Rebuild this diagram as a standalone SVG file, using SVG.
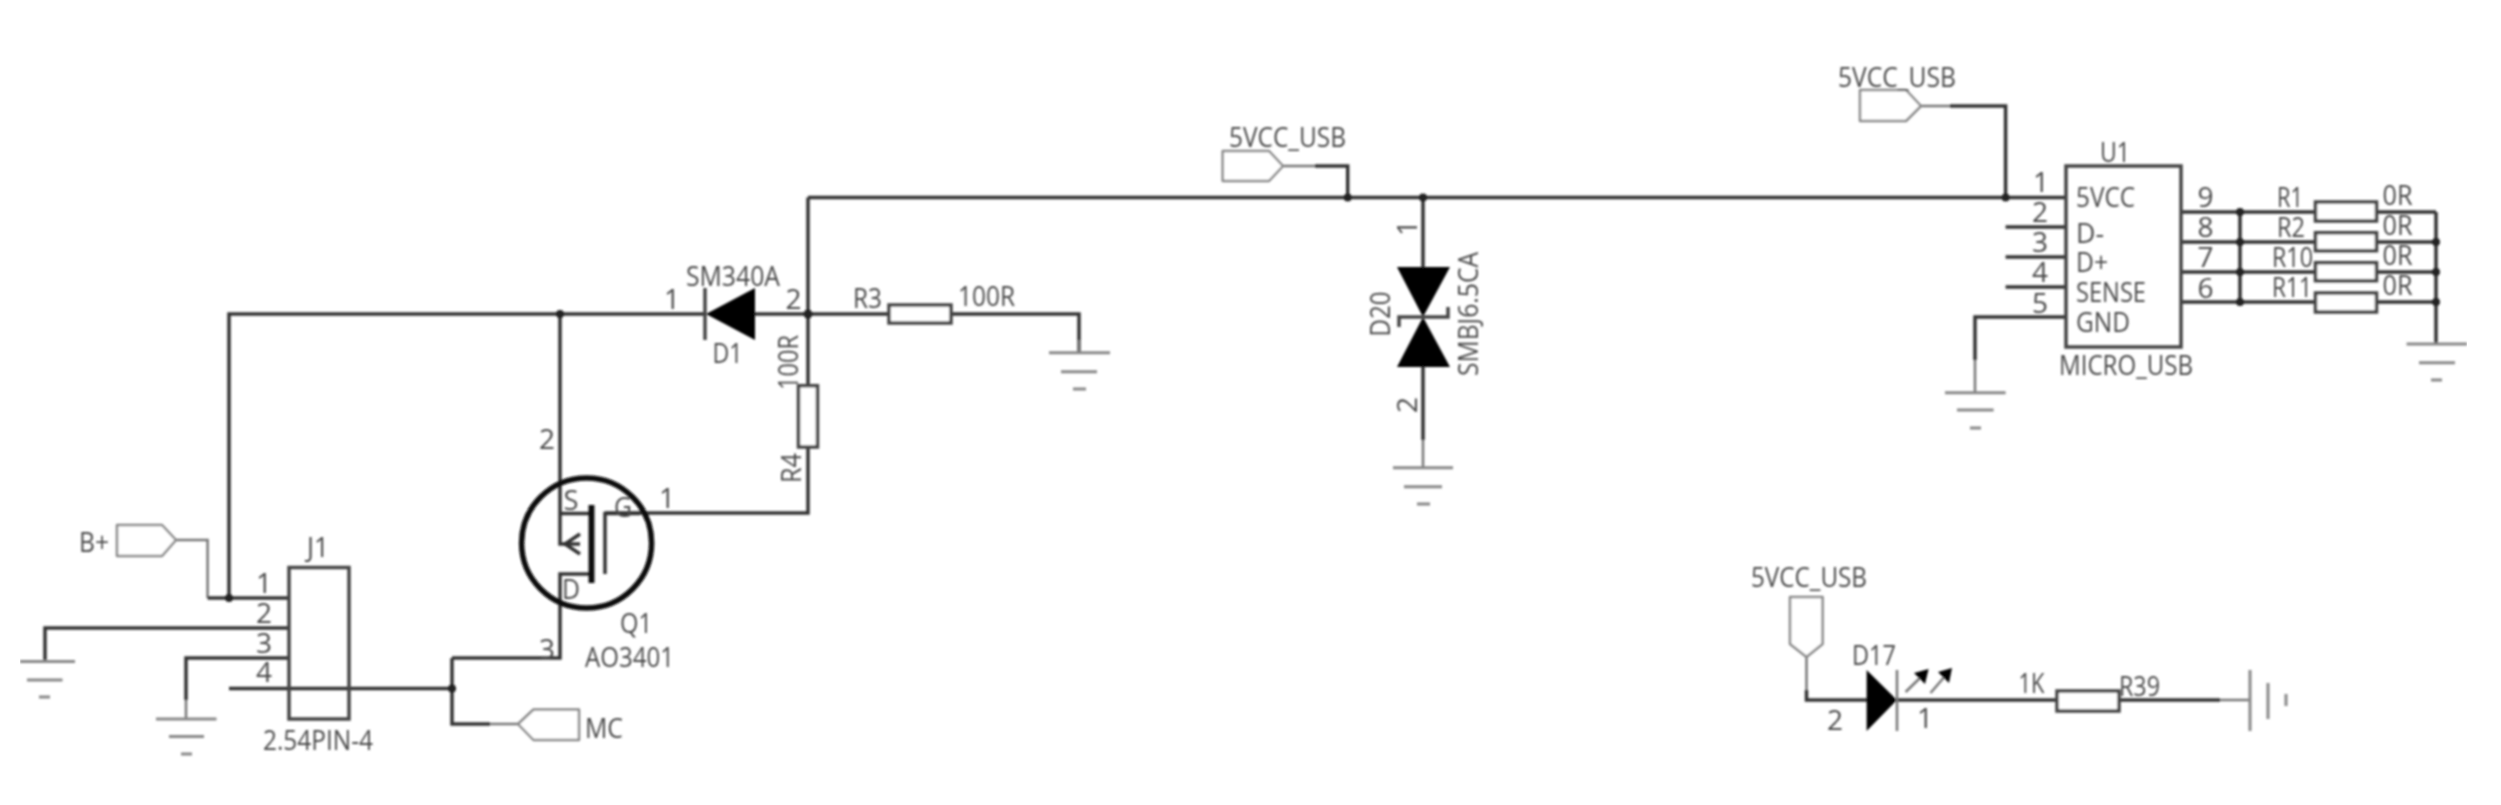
<svg xmlns="http://www.w3.org/2000/svg" width="2501" height="805" viewBox="0 0 2501 805">
<defs>
<style>
text{font-family:"Open Sans","Noto Sans","DejaVu Sans",sans-serif;font-size:28px;fill:#4a4a4a}
.m{text-anchor:middle}
.w{fill:none;stroke:#333;stroke-width:3.5;stroke-linejoin:miter}
.t{fill:none;stroke:#777;stroke-width:2.5}
.b{fill:none;stroke:#444;stroke-width:3.5}
.r{fill:#fff;stroke:#444;stroke-width:3.5}
.f{fill:#fff;stroke:#888;stroke-width:2.5;stroke-linejoin:round}
.g{fill:none;stroke:#888;stroke-width:3}
.k{fill:#000}
.d{fill:#222}
</style>
<filter id="soft" x="0" y="0" width="100%" height="100%"><feGaussianBlur stdDeviation="0.9"/></filter>
</defs>
<rect width="2501" height="805" fill="#fff"/>
<g filter="url(#soft)">
<g id="connectors">
<path class="w" d="M229 598V314H705"/>
<path class="w" d="M560 314V544H580M560 513.500H591M591 574H560V658H452M229 688.500H452M452 658V724H490"/>
<path class="t" d="M490 724H518"/>
<path class="t" d="M176 540H207.600V598"/>
<path class="w" d="M207.600 598H289"/>
<path class="w" d="M45 661V628H289"/>
<path class="w" d="M186 700V658H289"/>
<path class="t" d="M186 700V719"/>
<path class="w" d="M755 314H1079V352"/>
<path class="w" d="M808 197.500V513H605"/>
<path class="w" d="M808 197.500H2066"/>
<path class="t" d="M1283 166H1315"/>
<path class="w" d="M1315 166H1347.700V197.500"/>
<path class="t" d="M1921 106H1950"/>
<path class="w" d="M1950 106H2005.600V197.500"/>
<path class="w" d="M1423 197.500V267M1423 367V440"/>
<path class="t" d="M1423 440V468"/>
<path class="w" d="M2005.600 227H2066M2005.600 257H2066M2005.600 287H2066M1975 360V317H2066"/>
<path class="t" d="M1975 360V393"/>
<path class="w" d="M2181 212H2436M2181 242H2436M2181 272H2436M2181 302H2436M2240 212V302M2436 212V344"/>
<path class="t" d="M1806.500 657V690"/>
<path class="w" d="M1806.500 690V700H1870M1897 700H2220"/>
<path class="t" d="M2220 700H2250"/>
<g class="d">
<circle cx="229" cy="598" r="4"/><circle cx="560" cy="314" r="4"/><circle cx="452" cy="688.500" r="4"/>
<circle cx="808" cy="314" r="4.500"/><circle cx="1347.700" cy="197.500" r="4"/><circle cx="1423" cy="197.500" r="4"/>
<circle cx="2005.600" cy="197.500" r="4"/>
<circle cx="2240" cy="212" r="4"/><circle cx="2240" cy="242" r="4"/><circle cx="2240" cy="272" r="4"/><circle cx="2240" cy="302" r="4"/>
<circle cx="2436" cy="242" r="4"/><circle cx="2436" cy="272" r="4"/><circle cx="2436" cy="302" r="4"/>
</g>
</g>

<g id="flag-bplus"><polygon class="f" points="117,525 162,525 176,540 162,556 117,556"/><text x="79" y="552" textLength="30" lengthAdjust="spacingAndGlyphs">B+</text></g>
<g id="flag-mc"><polygon class="f" points="518,724 533.500,709.500 579,709.500 579,740 533.500,740"/><text x="585" y="738" textLength="38" lengthAdjust="spacingAndGlyphs">MC</text></g>
<g id="flag-5v-a"><polygon class="f" points="1222.700,151 1269,151 1283,166 1269,181 1222.700,181"/><text x="1229" y="147" textLength="117" lengthAdjust="spacingAndGlyphs">5VCC_USB</text></g>
<g id="flag-5v-b"><polygon class="f" points="1860,90 1906,90 1921,106 1906,121 1860,121"/><text x="1838" y="87" textLength="118" lengthAdjust="spacingAndGlyphs">5VCC_USB</text></g>
<g id="flag-5v-c"><polygon class="f" points="1790,597 1822.600,597 1822.600,644 1806.500,657 1790,644"/><text x="1751" y="587" textLength="116" lengthAdjust="spacingAndGlyphs">5VCC_USB</text></g>

<g id="gnd-1"><path class="g" d="M20 661.500H75M27 680H62.500M39 697H50"/></g>
<g id="gnd-2"><path class="g" d="M156 719H216.500M169 736.500H204M181 754H192"/></g>
<g id="gnd-3"><path class="t" d="M1079 340V352.700"/><path class="g" d="M1049 352.700H1110M1061 371.700H1097M1073 389H1086"/></g>
<g id="gnd-4"><path class="g" d="M1393 467.700H1453M1404 486.700H1442M1417 504H1430"/></g>
<g id="gnd-5"><path class="g" d="M1945 392.700H2005.600M1957 410H1993.600M1970 428H1981"/></g>
<g id="gnd-6"><path class="g" d="M2406.600 344H2467M2419 362.700H2455M2431 380H2442"/></g>
<g id="gnd-7"><path class="g" d="M2250 670V731M2268 683V719M2286 694V706"/></g>

<g id="J1">
<rect x="289" y="567.500" width="60" height="151.500" class="b"/>
<text class="m" x="318" y="557" textLength="22" lengthAdjust="spacingAndGlyphs">J1</text>
<text class="m" x="264" y="593">1</text><text class="m" x="264" y="623">2</text><text class="m" x="264" y="653">3</text><text class="m" x="264" y="682">4</text>
<text x="263" y="750" textLength="110" lengthAdjust="spacingAndGlyphs">2.54PIN-4</text>
</g>

<g id="Q1">
<circle cx="586.600" cy="543" r="65" fill="none" stroke="#111" stroke-width="5.500"/>
<path d="M591.500 505V583" fill="none" stroke="#111" stroke-width="6"/>
<path class="w" d="M605 574V513.500H640"/>
<path class="w" d="M580 534L565 544L580 554"/>
<text class="m" x="571" y="510" textLength="15" lengthAdjust="spacingAndGlyphs">S</text><text class="m" x="623" y="517" textLength="18" lengthAdjust="spacingAndGlyphs">G</text><text class="m" x="571" y="599" textLength="18" lengthAdjust="spacingAndGlyphs">D</text>
<text class="m" x="547" y="449">2</text><text class="m" x="667" y="508">1</text><text class="m" x="547" y="659">3</text>
<text class="m" x="636" y="633" textLength="32" lengthAdjust="spacingAndGlyphs">Q1</text>
<text x="585" y="667" textLength="89" lengthAdjust="spacingAndGlyphs">AO3401</text>
</g>

<g id="D1">
<path class="b" d="M705 288V340" stroke-width="4"/>
<polygon class="k" points="706,314 755,288 755,340"/>
<text x="686" y="286" textLength="94" lengthAdjust="spacingAndGlyphs">SM340A</text>
<text class="m" x="672" y="309">1</text><text class="m" x="793.600" y="309">2</text>
<text class="m" x="727.500" y="363" textLength="30" lengthAdjust="spacingAndGlyphs">D1</text>
</g>

<g id="R3"><rect class="r" x="889" y="305" width="62" height="18"/>
<text x="853" y="308" textLength="29" lengthAdjust="spacingAndGlyphs">R3</text>
<text x="958" y="306" textLength="57" lengthAdjust="spacingAndGlyphs">100R</text></g>

<g id="R4"><rect class="r" x="798.500" y="385.700" width="19" height="61.300"/>
<text class="m" transform="translate(798 362.500) rotate(-90)" textLength="55" lengthAdjust="spacingAndGlyphs">100R</text>
<text class="m" transform="translate(801 468) rotate(-90)" textLength="30" lengthAdjust="spacingAndGlyphs">R4</text></g>

<g id="D20">
<polygon class="k" points="1397,267 1450,267 1423,317"/>
<polygon class="k" points="1397,367 1450,367 1423,317"/>
<path class="b" d="M1399 327V317H1448V307"/>
<text class="m" transform="translate(1417 228) rotate(-90)">1</text>
<text class="m" transform="translate(1417 405) rotate(-90)">2</text>
<text class="m" transform="translate(1390 314) rotate(-90)" textLength="45" lengthAdjust="spacingAndGlyphs">D20</text>
<text class="m" transform="translate(1478 314) rotate(-90)" textLength="124" lengthAdjust="spacingAndGlyphs">SMBJ6.5CA</text>
</g>

<g id="U1">
<rect class="b" x="2066" y="166" width="115" height="181"/>
<text class="m" x="2115" y="162" textLength="30" lengthAdjust="spacingAndGlyphs">U1</text>
<text x="2076" y="207" textLength="59" lengthAdjust="spacingAndGlyphs">5VCC</text>
<text x="2076" y="243" textLength="28" lengthAdjust="spacingAndGlyphs">D-</text>
<text x="2076" y="272" textLength="32" lengthAdjust="spacingAndGlyphs">D+</text>
<text x="2076" y="302" textLength="70" lengthAdjust="spacingAndGlyphs">SENSE</text>
<text x="2076" y="332" textLength="54" lengthAdjust="spacingAndGlyphs">GND</text>
<text x="2059" y="375" textLength="134" lengthAdjust="spacingAndGlyphs">MICRO_USB</text>
<text class="m" x="2041" y="192">1</text><text class="m" x="2040" y="222">2</text><text class="m" x="2040" y="252">3</text><text class="m" x="2040" y="282">4</text><text class="m" x="2040" y="313">5</text>
<text class="m" x="2205.500" y="207">9</text><text class="m" x="2205.500" y="237">8</text><text class="m" x="2205.500" y="267">7</text><text class="m" x="2205.500" y="298">6</text>
</g>

<g id="R1"><rect class="r" x="2315.500" y="202" width="61" height="19"/><text x="2277" y="207" textLength="26" lengthAdjust="spacingAndGlyphs">R1</text><text x="2382.500" y="205" textLength="30" lengthAdjust="spacingAndGlyphs">0R</text></g>
<g id="R2"><rect class="r" x="2315.500" y="232.700" width="61" height="18"/><text x="2277" y="237" textLength="28" lengthAdjust="spacingAndGlyphs">R2</text><text x="2382.500" y="235" textLength="30" lengthAdjust="spacingAndGlyphs">0R</text></g>
<g id="R10"><rect class="r" x="2315.500" y="262.700" width="61" height="18"/><text x="2272" y="267" textLength="41" lengthAdjust="spacingAndGlyphs">R10</text><text x="2382.500" y="265" textLength="30" lengthAdjust="spacingAndGlyphs">0R</text></g>
<g id="R11"><rect class="r" x="2315.500" y="293" width="61" height="19"/><text x="2272" y="297" textLength="40" lengthAdjust="spacingAndGlyphs">R11</text><text x="2382.500" y="295" textLength="30" lengthAdjust="spacingAndGlyphs">0R</text></g>

<g id="D17">
<polygon class="k" points="1866.600,670 1897,700 1866.600,731"/>
<path class="t" d="M1897 670V731"/>
<path class="t" d="M1905.600 692L1922 676M1930.500 693L1946 675"/>
<polygon class="k" points="1928.600,669 1914,673 1925,684"/>
<polygon class="k" points="1952,668 1938,672 1949,683"/>
<text x="1852" y="665" textLength="44" lengthAdjust="spacingAndGlyphs">D17</text>
<text class="m" x="1835" y="730">2</text><text class="m" x="1925" y="728">1</text>
</g>

<g id="R39"><rect class="r" x="2057" y="691" width="62" height="20"/>
<text x="2018.500" y="693" textLength="26" lengthAdjust="spacingAndGlyphs">1K</text>
<text x="2119" y="696" textLength="41" lengthAdjust="spacingAndGlyphs">R39</text></g>
</g>
</svg>
